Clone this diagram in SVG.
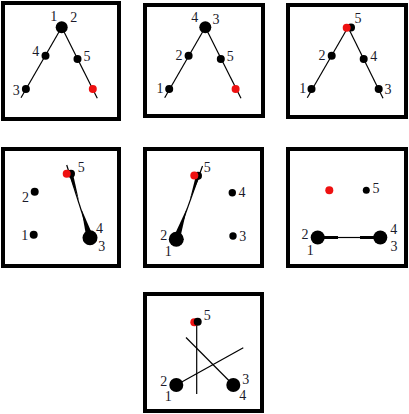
<svg xmlns="http://www.w3.org/2000/svg" width="409" height="414" viewBox="0 0 409 414">
<style>
.box{fill:#fff;stroke:#000;stroke-width:4}
.ln{stroke:#000;stroke-width:1.2;fill:none}
.bar{stroke:#000;stroke-width:3}
.wd{fill:#000;stroke:none}
.n{fill:#000}
.r{fill:#ee1111}
text{font-family:"Liberation Serif","Times New Roman",serif;font-size:14px;fill:#1a1a2a;text-anchor:middle}
</style>
<rect width="409" height="414" fill="#fff"/>

<!-- Panel 1 -->
<g id="panel1">
<rect class="box" x="3" y="3" width="116" height="116"/>
<g id="p1-connectors">
<line class="ln" x1="61.7" y1="27.3" x2="21" y2="97.7"/>
<line class="ln" x1="61.7" y1="27.3" x2="97.3" y2="98.3"/>
</g>
<g id="p1-n12"><circle class="n" cx="61.7" cy="27.3" r="6"/><text x="53.8" y="21">1</text><text x="73.7" y="21.7">2</text></g>
<g id="p1-n4"><circle class="n" cx="45.5" cy="55.7" r="4"/><text x="35.8" y="56.4">4</text></g>
<g id="p1-n5"><circle class="n" cx="77.5" cy="59" r="4"/><text x="87" y="60.5">5</text></g>
<g id="p1-n3"><circle class="n" cx="25.9" cy="89" r="4"/><text x="16.3" y="95">3</text></g>
<g id="p1-red"><circle class="r" cx="92.8" cy="89" r="4"/></g>
</g>

<!-- Panel 2 -->
<g id="panel2">
<rect class="box" x="145" y="5" width="118" height="111"/>
<g id="p2-connectors">
<line class="ln" x1="205.3" y1="27.3" x2="164.7" y2="97.7"/>
<line class="ln" x1="205.3" y1="27.3" x2="241" y2="98.3"/>
</g>
<g id="p2-n34"><circle class="n" cx="205.3" cy="27.3" r="6"/><text x="194.8" y="22.4">4</text><text x="216" y="24.4">3</text></g>
<g id="p2-n2"><circle class="n" cx="188.6" cy="55.7" r="4"/><text x="179" y="59.7">2</text></g>
<g id="p2-n5"><circle class="n" cx="220.8" cy="59" r="4"/><text x="230.2" y="60.5">5</text></g>
<g id="p2-n1"><circle class="n" cx="169.2" cy="89" r="4"/><text x="160" y="93">1</text></g>
<g id="p2-red"><circle class="r" cx="235.6" cy="89" r="4"/></g>
</g>

<!-- Panel 3 -->
<g id="panel3">
<rect class="box" x="288" y="5" width="118" height="112"/>
<g id="p3-connectors">
<line class="ln" x1="348" y1="27.3" x2="307.3" y2="97.7"/>
<line class="ln" x1="348" y1="27.3" x2="383" y2="98.3"/>
</g>
<g id="p3-n5"><circle class="n" cx="351" cy="27.5" r="4"/><circle class="r" cx="346.7" cy="27.8" r="4"/><text x="358" y="23">5</text></g>
<g id="p3-n2"><circle class="n" cx="331.7" cy="55.7" r="4"/><text x="322" y="59.7">2</text></g>
<g id="p3-n4"><circle class="n" cx="363.7" cy="59" r="4"/><text x="373.8" y="60.5">4</text></g>
<g id="p3-n1"><circle class="n" cx="311.5" cy="89" r="4"/><text x="302.7" y="93">1</text></g>
<g id="p3-n3"><circle class="n" cx="378.7" cy="89" r="4"/><text x="388" y="94.4">3</text></g>
</g>

<!-- Panel 4 -->
<g id="panel4">
<rect class="box" x="3" y="149" width="116" height="117"/>
<g id="p4-connectors">
<line class="ln" x1="66.7" y1="165" x2="90" y2="237.7"/>
<polygon class="wd" points="69.1,174.6 72.9,173.4 79,200.8"/>
<polygon class="wd" points="86.6,238.7 93.4,236.7 81.4,209"/>
</g>
<g id="p4-n5"><circle class="n" cx="71" cy="173.7" r="4"/><circle class="r" cx="66.7" cy="173.7" r="4"/><text x="81.3" y="172.4">5</text></g>
<g id="p4-n2"><circle class="n" cx="34.7" cy="191.7" r="4"/><text x="25.5" y="202.4">2</text></g>
<g id="p4-n1"><circle class="n" cx="33.7" cy="234.7" r="4"/><text x="24.7" y="240">1</text></g>
<g id="p4-n34"><circle class="n" cx="90" cy="237.7" r="7.5"/><text x="99.5" y="233">4</text><text x="101.7" y="250.7">3</text></g>
</g>

<!-- Panel 5 -->
<g id="panel5">
<rect class="box" x="145" y="149" width="117" height="117"/>
<g id="p5-connectors">
<line class="ln" x1="202.5" y1="166" x2="176.3" y2="239.3"/>
<polygon class="wd" points="199.9,176.3 196.1,175.1 189.9,199.4"/>
<polygon class="wd" points="179.6,240.4 173,238.2 187,208.1"/>
</g>
<g id="p5-n5"><circle class="n" cx="198" cy="175.7" r="4"/><circle class="r" cx="194.3" cy="175.5" r="4"/><text x="207.2" y="172.4">5</text></g>
<g id="p5-n4"><circle class="n" cx="232.3" cy="192.7" r="3.7"/><text x="242" y="197.2">4</text></g>
<g id="p5-n3"><circle class="n" cx="233" cy="236" r="3.7"/><text x="242.7" y="241">3</text></g>
<g id="p5-n12"><circle class="n" cx="176.3" cy="239.3" r="7.5"/><text x="163.7" y="239.7">2</text><text x="168.3" y="255.7">1</text></g>
</g>

<!-- Panel 6 -->
<g id="panel6">
<rect class="box" x="288" y="149" width="118" height="117"/>
<g id="p6-connectors">
<line class="bar" x1="318" y1="237.5" x2="338" y2="237.5"/>
<line class="ln" x1="337" y1="237.5" x2="361" y2="237.5"/>
<line class="bar" x1="360" y1="237.5" x2="380" y2="237.5"/>
</g>
<g id="p6-red"><circle class="r" cx="329.3" cy="190.3" r="4"/></g>
<g id="p6-n5"><circle class="n" cx="366.3" cy="190.3" r="3.5"/><text x="376" y="193">5</text></g>
<g id="p6-n12"><circle class="n" cx="317.7" cy="237.5" r="7"/><text x="305" y="238.7">2</text><text x="310.2" y="255">1</text></g>
<g id="p6-n34"><circle class="n" cx="380.3" cy="237.5" r="7"/><text x="393.7" y="234.2">4</text><text x="394" y="251.4">3</text></g>
</g>

<!-- Panel 7 -->
<g id="panel7">
<rect class="box" x="145" y="294" width="117" height="117"/>
<g id="p7-connectors">
<line class="ln" x1="196.7" y1="322" x2="196.7" y2="394"/>
<line class="ln" x1="186" y1="337.5" x2="233.3" y2="385"/>
<line class="ln" x1="176.3" y1="385" x2="243.3" y2="347.7"/>
</g>
<g id="p7-n5"><circle class="r" cx="194.3" cy="322.3" r="4"/><circle class="n" cx="197.7" cy="321.7" r="4"/><text x="207.2" y="320">5</text></g>
<g id="p7-n12"><circle class="n" cx="176.3" cy="385" r="7"/><text x="163.7" y="386">2</text><text x="168.3" y="401.4">1</text></g>
<g id="p7-n34"><circle class="n" cx="233.3" cy="385" r="7"/><text x="245.7" y="384">3</text><text x="242.7" y="400">4</text></g>
</g>
</svg>
